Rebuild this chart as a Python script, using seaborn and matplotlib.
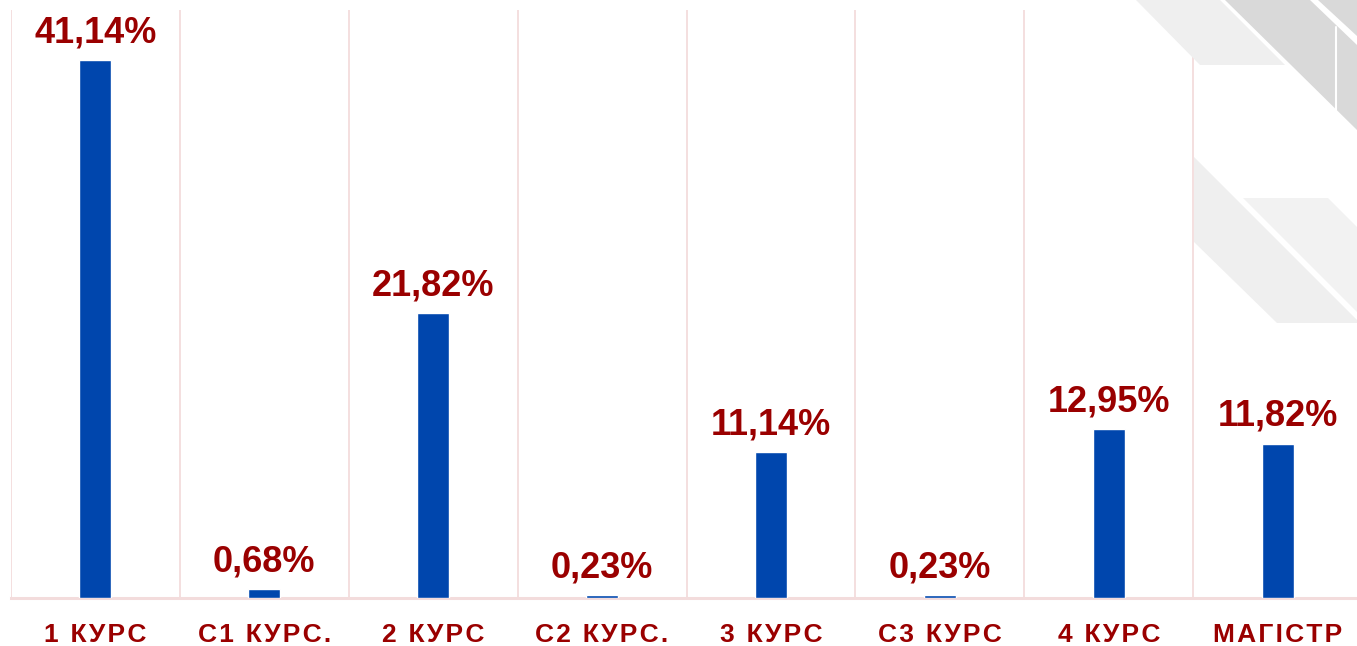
import matplotlib
matplotlib.use("Agg")
import matplotlib.pyplot as plt
from matplotlib.patches import Polygon
import pandas as pd
import seaborn as sns

# data
courses = ["1 КУРС", "С1 КУРС.", "2 КУРС", "С2 КУРС.", "3 КУРС", "С3 КУРС", "4 КУРС", "МАГІСТР"]
shares = [41.14, 0.68, 21.82, 0.23, 11.14, 0.23, 12.95, 11.82]

bar_color = "#0046AD"
text_color = "#9A0000"
line_color = "#F3DCDC"

sns.set_style("white")
plt.rcParams["font.family"] = ["Liberation Sans", "DejaVu Sans"]

df = pd.DataFrame({"course": courses, "share": shares})

W, H = 1357, 646
fig = plt.figure(figsize=(W / 100, H / 100), dpi=100)

# slide background decoration (top right corner)
def px_poly(pts, color):
    fig.patches.append(Polygon([(x / W, 1 - y / H) for x, y in pts], closed=True,
                               transform=fig.transFigure, facecolor=color,
                               edgecolor="none", zorder=0))

px_poly([(1136, 0), (1220, 0), (1285, 65), (1200, 65)], "#EFEFEF")
px_poly([(1225, 0), (1310, 0), (1357, 45), (1357, 130)], "#D9D9D9")
px_poly([(1318, 0), (1357, 0), (1357, 36)], "#D9D9D9")
px_poly([(1243, 198), (1328, 198), (1357, 227), (1357, 312)], "#F2F2F2")
px_poly([(1194, 157), (1357, 320), (1357, 323), (1277, 323), (1194, 242)], "#EFEFEF")
fig.lines.append(plt.Line2D([1336 / W, 1336 / W], [1 - 27 / H, 1 - 110 / H],
                            transform=fig.transFigure, color="white", lw=1.5))

ax = fig.add_axes([11 / W, 48 / H, 1351 / W, 588 / H])
ax.patch.set_alpha(0)

sns.barplot(data=df, x="course", y="share", color=bar_color, width=0.19,
            saturation=1, ax=ax, zorder=3)

labels = [f"{v:.2f}%".replace(".", ",") for v in shares]
ax.bar_label(ax.containers[0], labels=labels, padding=7, color=text_color,
             fontsize=26, fontweight="bold")

ax.set_xlim(-0.5, len(courses) - 0.5)
ax.set_ylim(0, 45)
ax.set_xlabel("")
ax.set_ylabel("")
ax.set_yticks([])

# category separators
ax.set_xticks([i - 0.5 for i in range(len(courses) + 1)], minor=True)
ax.grid(which="minor", axis="x", color=line_color, lw=1.3, zorder=1)
ax.tick_params(axis="x", which="both", length=0)

# letter-spaced category names
spaced = ["\u200a".join(list(c)) for c in courses]
ax.set_xticks(range(len(courses)))
ax.set_xticklabels(spaced, color=text_color, fontsize=19, fontweight="bold")
ax.tick_params(axis="x", which="major", pad=18)

for s in ["top", "right", "left"]:
    ax.spines[s].set_visible(False)
ax.spines["bottom"].set_color(line_color)
ax.spines["bottom"].set_linewidth(2.2)

fig.savefig("out.png", dpi=100)
